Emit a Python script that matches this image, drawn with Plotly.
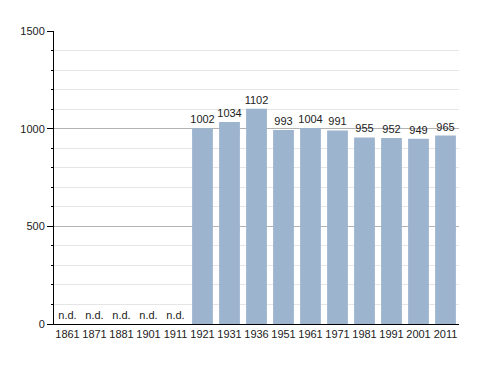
import plotly.graph_objects as go

years = ["1861", "1871", "1881", "1901", "1911", "1921", "1931", "1936",
         "1951", "1961", "1971", "1981", "1991", "2001", "2011"]
population = [None, None, None, None, None, 1002, 1034, 1102,
              993, 1004, 991, 955, 952, 949, 965]
labels = ["n.d." if v is None else str(v) for v in population]
y_ticks = [0, 500, 1000, 1500]

fig = go.Figure()
fig.add_trace(go.Bar(
    x=years,
    y=[0 if v is None else v for v in population],
    text=labels,
    textposition="outside",
    cliponaxis=False,
    textfont=dict(family="Liberation Sans, Arial, sans-serif", size=11, color="#222222"),
    marker=dict(color="#9db4cf", line=dict(width=0)),
    hoverinfo="skip",
))

fig.update_layout(
    width=488, height=373,
    margin=dict(l=42, r=37, t=23, b=57),
    paper_bgcolor="white", plot_bgcolor="white",
    bargap=0.23,
    showlegend=False,
    uniformtext=dict(minsize=11, mode="show"),
    font=dict(family="Liberation Sans, Arial, sans-serif", size=11, color="#222222"),
)
fig.update_xaxes(
    type="category",
    showgrid=False,
    showline=True, linecolor="black", linewidth=1,
    ticks="", tickfont=dict(size=11),
)
fig.update_yaxes(
    range=[0, 1500],
    tickvals=y_ticks,
    showgrid=True, gridcolor="#b3b3b3", gridwidth=1,
    showline=True, linecolor="black", linewidth=1,
    ticks="outside", ticklen=6, tickcolor="black",
    zeroline=False,
    tickfont=dict(size=11),
    minor=dict(dtick=100, showgrid=True, gridcolor="#e6e6e6",
               ticks="outside", ticklen=2, tickcolor="black"),
)

fig.write_html("out.html")
